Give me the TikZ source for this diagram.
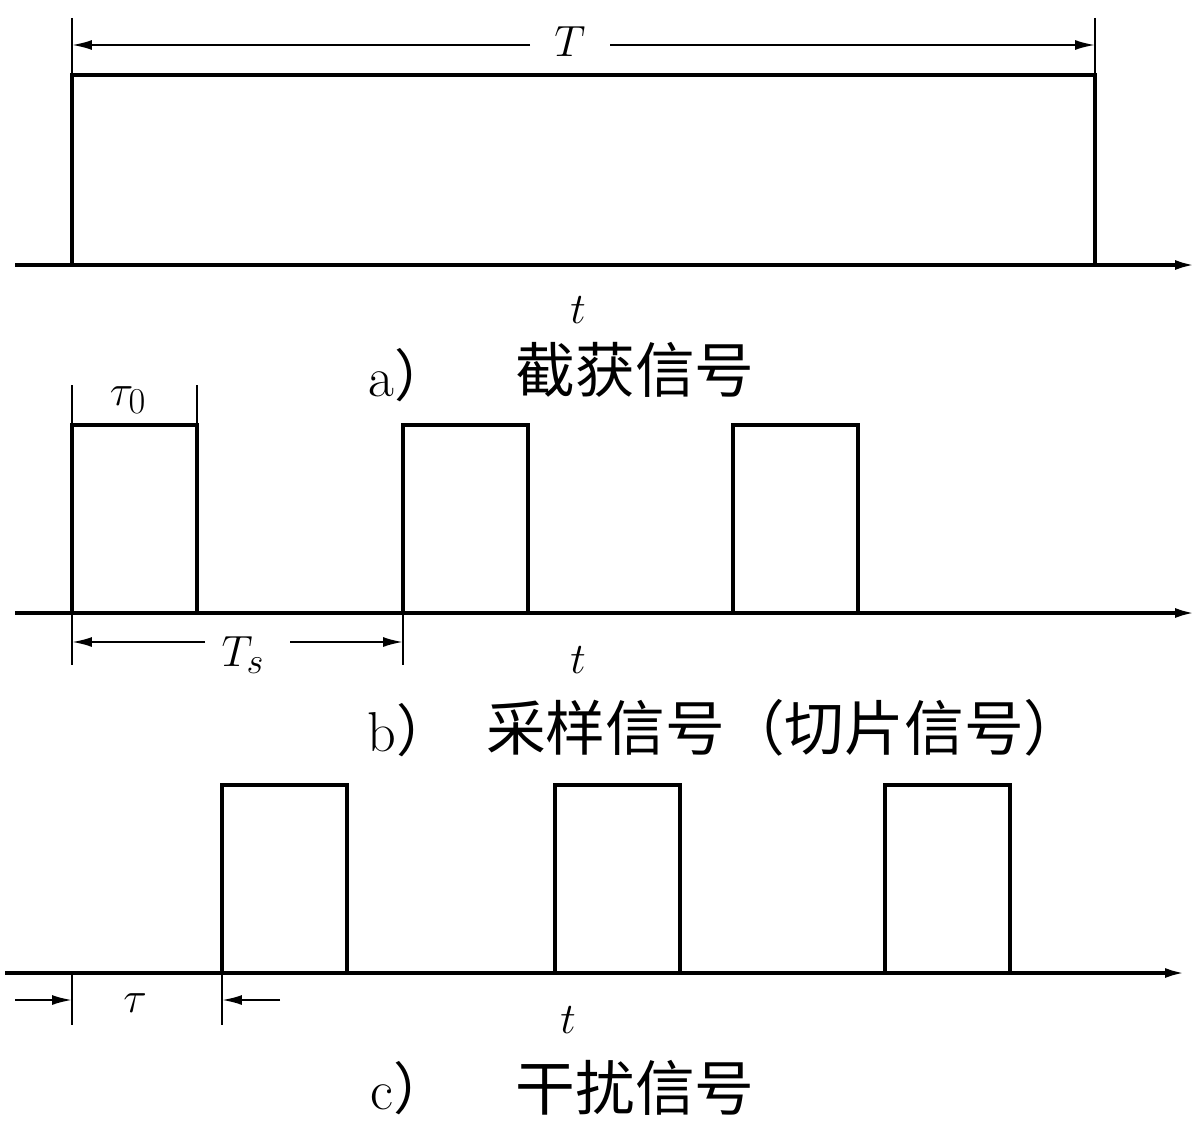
\documentclass[tikz,border=0pt]{standalone}
\usepackage{fontspec}
\newfontfamily\cjk{Noto Sans CJK SC}
\usetikzlibrary{arrows.meta}
\tikzset{>={Latex[length=4mm,width=2mm]}}
\tikzset{sig/.style={line width=2pt},
    dim/.style={line width=1.2pt},
    lab/.style={font=\fontsize{32}{36}\selectfont},
    captext/.style={font=\fontsize{34}{38}\selectfont\cjk}}
\begin{document}
\begin{tikzpicture}[x=0.02cm,y=-0.02cm]
\useasboundingbox (0,0) rectangle (1200,1132);
%panel a
\coordinate (a0) at (15,265); \coordinate (a1) at (1195,265);
\draw[sig,->] (a0) -- (a1);
\draw[sig] (72,265) -- (72,75) -- (1095,75) -- (1095,265);
\draw[dim] (72,18) -- (72,75); \draw[dim] (1095,18) -- (1095,75);
\node[lab] (T) at (570,42) {$T$};
\draw[dim,->] (530,45) -- (72,45);
\draw[dim,->] (610,45) -- (1095,45);
\node[lab] (ta) at (578,310) {$t$};
\node[lab] (capa) at (410,375) {a{\cjk）}};
\node[captext] (capa2) at (635,370) {截获信号};
%panel b
\draw[sig,->] (15,613) -- (1195,613);
\foreach \x in {72,403,733}
  \draw[sig] (\x,613) -- (\x,425) -- (\x+125,425) -- (\x+125,613);
\draw[dim] (72,385) -- (72,425); \draw[dim] (197,385) -- (197,425);
\node[lab] (tau0) at (128,400) {$\tau_0$};
\draw[dim] (72,613) -- (72,665); \draw[dim] (403,613) -- (403,665);
\node[lab] (Ts) at (243,655) {$T_s$};
\draw[dim,->] (205,642) -- (72,642);
\draw[dim,->] (290,642) -- (403,642);
\node[lab] (tb) at (578,660) {$t$};
\node[lab] (capb) at (410,730) {b{\cjk）}};
\node[captext,anchor=west] (capb2) at (480,728) {采样信号（切片信号）};
%panel c
\draw[sig,->] (5,973) -- (1185,973);
\foreach \x in {222,555,885}
  \draw[sig] (\x,973) -- (\x,785) -- (\x+125,785) -- (\x+125,973);
\draw[dim] (72,973) -- (72,1025); \draw[dim] (222,973) -- (222,1025);
\coordinate (l0) at (15,1000); \coordinate (r0) at (280,1000);
\draw[dim,->] (l0) -- (72,1000);
\draw[dim,->] (r0) -- (222,1000);
\node[lab] (tau) at (135,1003) {$\tau$};
\node[lab] (tc) at (568,1020) {$t$};
\node[lab] (capc) at (410,1088) {c{\cjk）}};
\node[captext] (capc2) at (635,1088) {干扰信号};
\end{tikzpicture}
\end{document}
